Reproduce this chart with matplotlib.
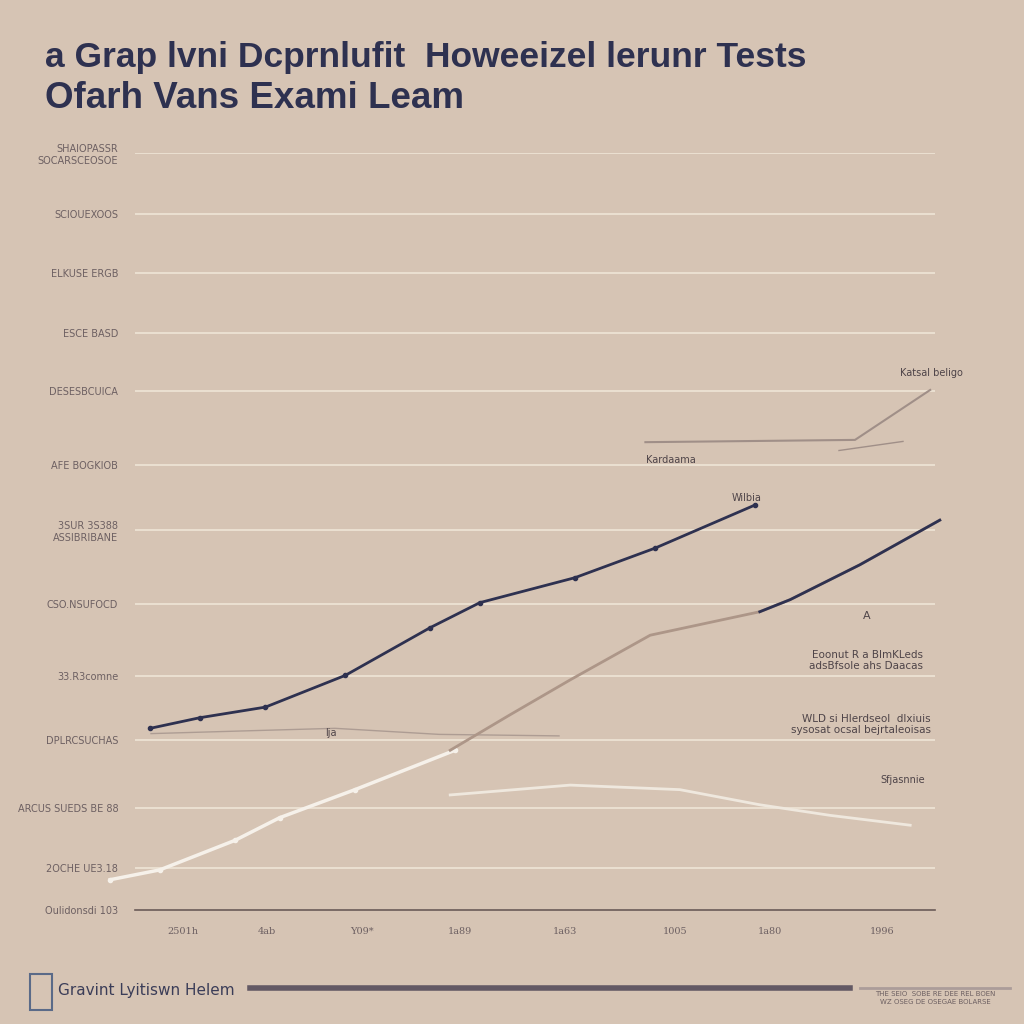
import matplotlib.pyplot as plt
from matplotlib.patches import Rectangle

# garbled headline, as in the reference picture
title_1 = "a Grap lvni Dcprnlufit  Howeeizel lerunr Tests"
title_2 = "Ofarh Vans Exami Leam"

# y ticks (uneven spacing in the reference) and their labels
y_ticks = [0, 5.5, 13.5, 22.5, 30.9, 40.4, 50.2, 58.8, 68.6, 76.2, 84.1, 91.9, 100]
y_labels = ["Oulidonsdi 103", "2OCHE UE3.18", "ARCUS SUEDS BE 88", "DPLRCSUCHAS",
            "33.R3comne", "CSO.NSUFOCD", "3SUR 3S388\nASSIBRIBANE", "AFE BOGKIOB",
            "DESESBCUICA", "ESCE BASD", "ELKUSE ERGB", "SCIOUEXOOS",
            "SHAIOPASSR\nSOCARSCEOSOE"]

# x ticks and labels
x_ticks = [6, 16.5, 28.4, 40.6, 53.8, 67.5, 79.4, 93.4]
x_labels = ["2501h", "4ab", "Y09*", "1a89", "1a63", "1005", "1a80", "1996"]

# series
dark_x = [1.9, 8.1, 16.3, 26.3, 36.9, 43.1, 55, 65, 77.5]
dark_y = [24.0, 25.4, 26.8, 31.0, 37.3, 40.6, 43.9, 47.8, 53.5]

tan_x = [39.4, 46.9, 54.4, 64.4, 78.1, 81.9, 90.6, 100.6]
tan_y = [21.1, 25.8, 30.4, 36.3, 39.4, 41.0, 45.6, 51.5]

white_x = [-3.1, 3.1, 12.5, 18.1, 27.5, 40]
white_y = [4.0, 5.3, 9.2, 12.2, 15.9, 21.1]

light_x = [39.4, 54.4, 68.1, 78.1, 86.9, 96.9]
light_y = [15.2, 16.5, 15.9, 13.9, 12.5, 11.2]

gray_x = [63.8, 90, 99.4]
gray_y = [61.8, 62.1, 68.7]

spur_x = [88, 96]
spur_y = [60.7, 61.9]

faint_x = [2, 15, 25, 38, 53]
faint_y = [23.3, 23.7, 24.0, 23.2, 23.0]

bg = "#d6c4b4"
navy = "#2e3150"
grid_c = "#efe5d6"
txt_c = "#6d6062"

fig = plt.figure(figsize=(10.24, 10.24), dpi=100, facecolor=bg)
ax = fig.add_axes([135 / 1024, 114 / 1024, 800 / 1024, 757 / 1024])
ax.set_facecolor(bg)
ax.set_xlim(0, 100)
ax.set_ylim(0, 100)

for s in ["top", "right", "left"]:
    ax.spines[s].set_visible(False)
ax.spines["bottom"].set_color("#6b5b58")
ax.spines["bottom"].set_linewidth(1.2)

ax.set_yticks(y_ticks)
ax.set_yticklabels(y_labels, fontsize=7, color=txt_c)
ax.tick_params(axis="y", length=0, pad=12)
ax.set_xticks(x_ticks)
ax.set_xticklabels(x_labels, fontsize=7, color=txt_c, family="DejaVu Serif")
ax.tick_params(axis="x", length=0, pad=12)
for y in y_ticks[1:]:
    ax.axhline(y, color=grid_c, lw=1.2, zorder=1)

ax.plot(faint_x, faint_y, color="#9c8c86", lw=1.0, alpha=0.7, zorder=2)
ax.plot(white_x, white_y, color="#f6f1ea", lw=2.5, marker="o", ms=3,
        clip_on=False, zorder=3)
ax.plot(light_x, light_y, color="#efe8de", lw=2.0, zorder=3)
ax.plot(tan_x, tan_y, color="#ad9688", lw=2.0, clip_on=False, zorder=3)
ax.plot(tan_x[4:], tan_y[4:], color=navy, lw=2.0, clip_on=False, zorder=4)
ax.plot(dark_x, dark_y, color=navy, lw=2.0, marker="o", ms=3, zorder=4)
ax.plot(gray_x, gray_y, color="#a08f88", lw=1.5, clip_on=False, zorder=3)
ax.plot(spur_x, spur_y, color="#a08f88", lw=1.0, clip_on=False, zorder=3)

# annotations
ax.text(99.5, 70.5, "Katsal beligo", fontsize=7, color="#4e4448", ha="center")
ax.text(67, 58.8, "Kardaama", fontsize=7, color="#4e4448", ha="center", va="bottom")
ax.text(76.5, 54.0, "Wilbia", fontsize=7, color="#4e4448", ha="center")
ax.text(91.5, 38.5, "A", fontsize=8, color="#4e4448", ha="center")
ax.text(98.5, 31.8, "Eoonut R a BlmKLeds\nadsBfsole ahs Daacas", fontsize=7.5,
        color="#4e4448", ha="right", linespacing=1.1)
ax.text(99.5, 23.4, "WLD si Hlerdseol  dlxiuis\nsysosat ocsal bejrtaleoisas", fontsize=7.5,
        color="#4e4448", ha="right", linespacing=1.1)
ax.text(96, 16.8, "Sfjasnnie", fontsize=7, color="#4e4448", ha="center")
ax.text(24.5, 23.0, "lja", fontsize=7, color="#4e4448", ha="center")

# titles
fig.text(45 / 1024, 1 - 58 / 1024, title_1, fontsize=25.5, fontweight="bold",
         color=navy, va="center", family="Liberation Sans")
fig.text(45 / 1024, 1 - 98 / 1024, title_2, fontsize=26.5, fontweight="bold",
         color=navy, va="center", family="Liberation Sans")

# footer
fig.add_artist(Rectangle((30 / 1024, 1 - 1010 / 1024), 22 / 1024, 36 / 1024,
                         fill=False, edgecolor="#5a6a88", lw=1.5))
fig.text(58 / 1024, 1 - 991 / 1024, "Gravint Lyitiswn Helem", fontsize=11,
         color="#3b3d58", va="center")
fig.add_artist(plt.Line2D([250 / 1024, 850 / 1024], [1 - 988 / 1024] * 2,
                          color="#4f4656", lw=4, alpha=0.85))
fig.add_artist(plt.Line2D([860 / 1024, 1010 / 1024], [1 - 988 / 1024] * 2,
                          color="#8f8288", lw=2, alpha=0.6))
fig.text(935 / 1024, 1 - 998 / 1024, "THE SEIO  SOBE RE DEE REL BOEN\nWZ OSEG DE OSEGAE BOLARSE",
         fontsize=5, color=txt_c, ha="center", va="center")

fig.savefig("out.png", dpi=100, facecolor=bg)
